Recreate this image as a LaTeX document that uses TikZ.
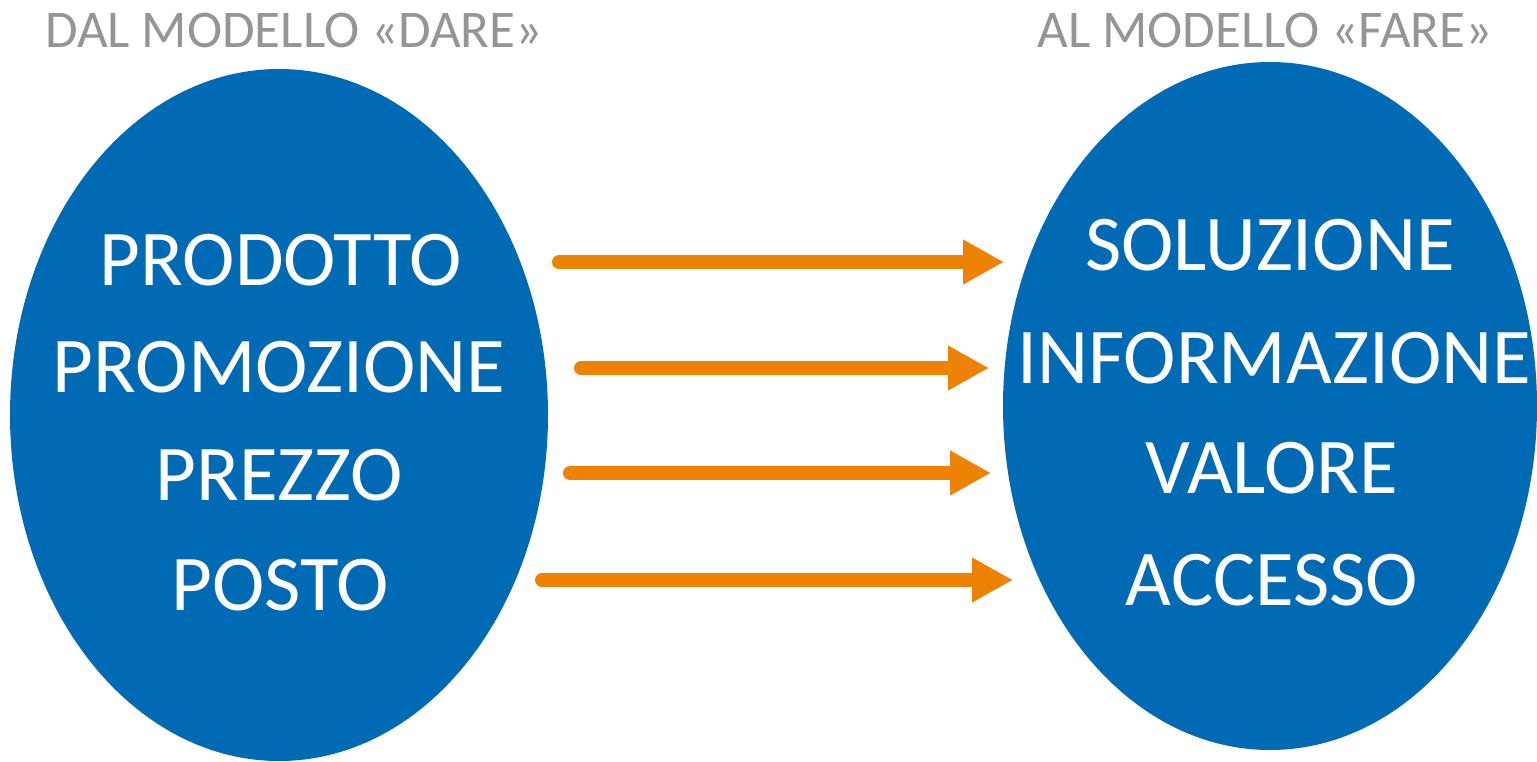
\documentclass[tikz,border=0pt]{standalone}
\usepackage{fontspec}
\setmainfont{Carlito}
\usetikzlibrary{arrows.meta}
\definecolor{blu}{HTML}{006AB4}
\definecolor{arancio}{HTML}{EE8204}
\definecolor{grigio}{HTML}{959595}
\tikzset{
  bubble/.style={fill=blu, draw=none},
  word/.style={text=white, font=\fontsize{79}{90}\selectfont, anchor=base, inner sep=0pt},
  title/.style={text=grigio, font=\fontsize{53}{60}\selectfont, anchor=base, inner sep=0pt},
  freccia/.style={draw=arancio, line width=14pt, line cap=round,
    -{Triangle[length=41pt, width=42pt]}}
}
\begin{document}
\begin{tikzpicture}[x=1pt, y=-1pt]
\useasboundingbox (0,0) rectangle (1537,761);
\fill[bubble] (279,415) ellipse [x radius=269, y radius=346];
\fill[bubble] (1270,406) ellipse [x radius=267, y radius=344];
\node[title] (t1) at (294,47) {DAL MODELLO «DARE»};
\node[title] (t2) at (1265,47) {AL MODELLO «FARE»};
\node[word] (l1) at (281,285) {PRODOTTO};
\node[word] (l2) at (279,392) {PROMOZIONE};
\node[word] (l3) at (279,500) {PREZZO};
\node[word] (l4) at (280,610) {POSTO};
\node[word] (r1) at (1270,270) {SOLUZIONE};
\node[word] (r2) at (1274,383) {INFORMAZIONE};
\node[word] (r3) at (1272,493) {VALORE};
\node[word] (r4) at (1272,605) {ACCESSO};
\coordinate (a1s) at (559,262); \coordinate (a1e) at (1004,262);
\coordinate (a2s) at (581,368); \coordinate (a2e) at (989,368);
\coordinate (a3s) at (570,473); \coordinate (a3e) at (991,473);
\coordinate (a4s) at (542,580); \coordinate (a4e) at (1013,580);
\draw[freccia] (a1s) -- (a1e);
\draw[freccia] (a2s) -- (a2e);
\draw[freccia] (a3s) -- (a3e);
\draw[freccia] (a4s) -- (a4e);
\end{tikzpicture}
\end{document}
